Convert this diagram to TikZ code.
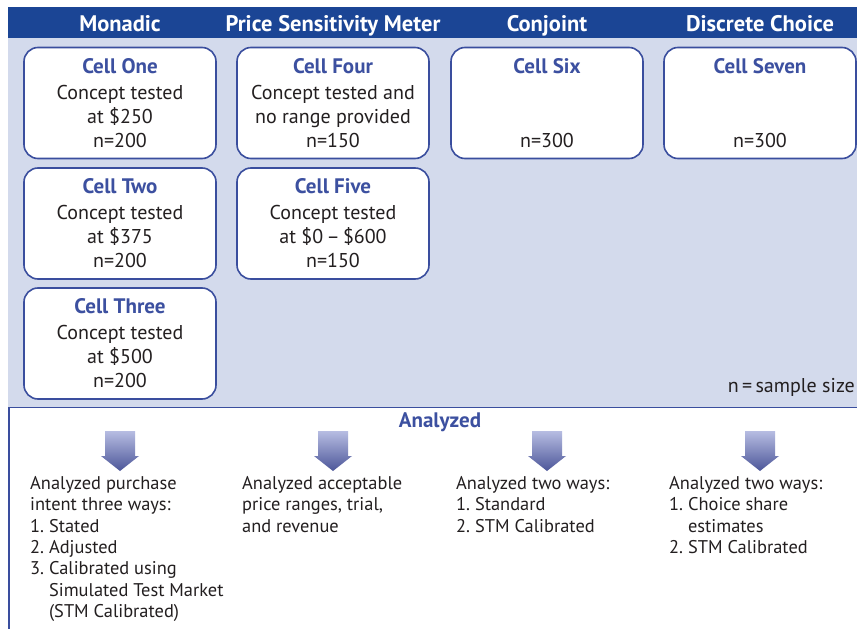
\documentclass[tikz,border=0pt]{standalone}
\usepackage{fontspec}
\setmainfont{PT Sans}
\usetikzlibrary{positioning}

\definecolor{bandblue}{HTML}{1B4595}
\definecolor{lightbg}{HTML}{D3DAEC}
\definecolor{cellline}{HTML}{3A4E9E}
\definecolor{titleblue}{HTML}{3C50A0}
\definecolor{bodytext}{HTML}{231F20}
\definecolor{arrowtop}{HTML}{B7BDE2}
\definecolor{arrowbot}{HTML}{4C5699}

\tikzset{
  cellbox/.style={draw=cellline,line width=1.6pt,fill=white,rounded corners=14pt,
    minimum width=192pt,minimum height=111pt,inner sep=0pt,align=center,
    text=bodytext,font=\fontsize{20}{24}\selectfont},
  headtext/.style={anchor=base,text=white,font=\fontsize{22.5}{24}\selectfont\bfseries},
  notetext/.style={anchor=north west,align=left,inner sep=0pt,text=bodytext,
    font=\fontsize{18.4}{21.4}\selectfont},
}

\begin{document}
\begin{tikzpicture}[x=1pt,y=-1pt]
  % Tunables
  \def\colA{120}   % column centres
  \def\colB{333}
  \def\colC{547}
  \def\colD{760}
  \def\rowA{103}   % row centres of the cells
  \def\rowB{223.5}
  \def\rowC{343.5}

  \useasboundingbox (0,0) rectangle (857,629);

  % Helper macro for one cell: (name, x, y, title, body)
  \newcommand{\cell}[5]{%
    \node[cellbox] (#1) at (#2,#3)
      {{\fontsize{21}{24}\selectfont\color{titleblue}\bfseries #4}\\[2pt]#5};
  }
  % Helper macro for one shaded arrow: (x centre)
  \newcommand{\flowarrow}[1]{%
    \shade[top color=arrowtop,bottom color=arrowbot]
      (#1-15,431) -- (#1+15,431) -- (#1+15,456) -- (#1+19,456)
      -- (#1,471) -- (#1-19,456) -- (#1-15,456) -- cycle;
  }

  % Backgrounds
  \fill[bandblue] (8,7) rectangle (857,38);
  \fill[lightbg] (8,38) rectangle (857,407);
  \fill[white] (8,407) rectangle (857,629);
  \draw[cellline,line width=1.5pt] (9,629) -- (9,407.5) -- (857,407.5);

  % Column heads
  \node[headtext] (hmono) at (\colA,31) {Monadic};
  \node[headtext] (hpsm)  at (\colB,31) {Price Sensitivity Meter};
  \node[headtext] (hconj) at (\colC,31) {Conjoint};
  \node[headtext] (hdisc) at (\colD,31) {Discrete Choice};

  % Cells
  \cell{one}{\colA}{\rowA}{Cell One}{Concept tested\\at \$250\\n=200}
  \cell{two}{\colA}{\rowB}{Cell Two}{Concept tested\\at \$375\\n=200}
  \cell{three}{\colA}{\rowC}{Cell Three}{Concept tested\\at \$500\\n=200}
  \cell{four}{\colB}{\rowA}{Cell Four}{Concept tested and\\no range provided\\n=150}
  \cell{five}{\colB}{\rowB}{Cell Five}{Concept tested\\at \$0\,--\,\$600\\n=150}
  \cell{six}{\colC}{\rowA}{Cell Six}{~\\~\\n=300}
  \cell{seven}{\colD}{\rowA}{Cell Seven}{~\\~\\n=300}

  \node[anchor=base east,inner sep=0pt,text=bodytext,font=\fontsize{20}{24}\selectfont]
    (key) at (855,392) {n\,=\,sample size};

  % Analysis
  \node[anchor=base,text=titleblue,font=\fontsize{21}{24}\selectfont\bfseries]
    (analyzed) at (440,427) {Analyzed};

  \flowarrow{\colA}
  \flowarrow{\colB}
  \flowarrow{\colC}
  \flowarrow{\colD}

  \node[notetext] (nmono) at (30,476) {Analyzed purchase\\intent three ways:\\
    1.~Stated\\2.~Adjusted\\3.~Calibrated using\\
    \hphantom{3.~}Simulated Test Market\\\hphantom{3.~}(STM Calibrated)};
  \node[notetext] (npsm) at (242,476) {Analyzed acceptable\\price ranges, trial,\\and revenue};
  \node[notetext] (nconj) at (456,476) {Analyzed two ways:\\1.~Standard\\2.~STM Calibrated};
  \node[notetext] (ndisc) at (669,476) {Analyzed two ways:\\1.~Choice share\\
    \hphantom{1.~}estimates\\2.~STM Calibrated};
\end{tikzpicture}
\end{document}
